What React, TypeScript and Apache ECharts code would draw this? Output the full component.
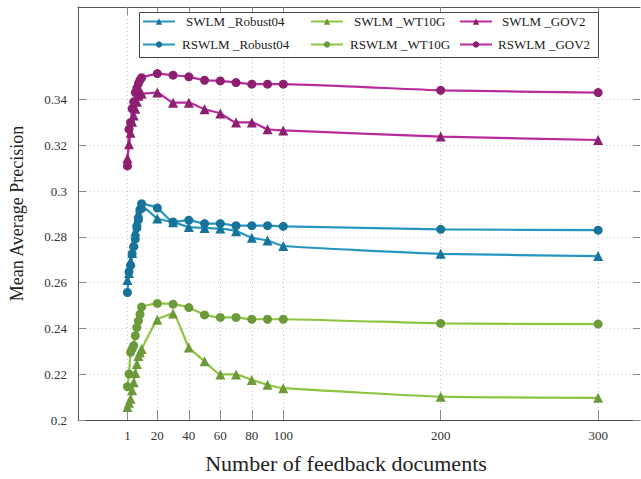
import React, { useEffect, useRef } from "react";
import * as echarts from "echarts";

const xValues = [1, 2, 3, 4, 5, 6, 7, 8, 9, 10, 20, 30, 40, 50, 60, 70, 80, 90, 100, 200, 300];
const xTicks = [1, 20, 40, 60, 80, 100, 200, 300];
const yTicks = [0.2, 0.22, 0.24, 0.26, 0.28, 0.3, 0.32, 0.34];

const swlmRobust04 = [0.2612, 0.2642, 0.2695, 0.273, 0.2775, 0.2825, 0.2868, 0.2904, 0.2929, 0.2935, 0.288, 0.2864, 0.2843, 0.2839, 0.2836, 0.2825, 0.2796, 0.2784, 0.276, 0.2726, 0.2716];
const rswlmRobust04 = [0.2557, 0.2648, 0.2675, 0.2726, 0.2757, 0.2791, 0.2839, 0.2875, 0.2919, 0.2945, 0.2926, 0.2865, 0.2873, 0.2858, 0.2858, 0.2849, 0.2849, 0.2849, 0.2846, 0.2833, 0.2829];
const swlmWT10G = [0.2057, 0.2075, 0.2093, 0.213, 0.2165, 0.2205, 0.2245, 0.228, 0.2296, 0.231, 0.2438, 0.2465, 0.2317, 0.2257, 0.2199, 0.2199, 0.2175, 0.2154, 0.2139, 0.2102, 0.2097];
const rswlmWT10G = [0.2146, 0.2201, 0.2296, 0.231, 0.2325, 0.2368, 0.2404, 0.2433, 0.2462, 0.2494, 0.2509, 0.2506, 0.2491, 0.2459, 0.2448, 0.2448, 0.244, 0.244, 0.244, 0.2422, 0.2419];
const swlmGOV2 = [0.3143, 0.3204, 0.3255, 0.3303, 0.333, 0.336, 0.339, 0.3416, 0.3426, 0.3426, 0.343, 0.3386, 0.3386, 0.3357, 0.3339, 0.33, 0.33, 0.327, 0.3265, 0.3238, 0.3223];
const rswlmGOV2 = [0.311, 0.327, 0.33, 0.336, 0.339, 0.343, 0.345, 0.347, 0.3485, 0.3495, 0.3513, 0.3506, 0.3499, 0.3484, 0.3481, 0.3474, 0.3467, 0.3467, 0.3467, 0.344, 0.343];

const FONT = "Liberation Serif";

const seriesDefs = [
  { name: "SWLM _Robust04", data: swlmRobust04, symbol: "triangle", line: "#2596c0", mark: "#17739a" },
  { name: "RSWLM _Robust04", data: rswlmRobust04, symbol: "circle", line: "#2596c0", mark: "#17739a" },
  { name: "SWLM _WT10G", data: swlmWT10G, symbol: "triangle", line: "#8dc540", mark: "#6b9a3a" },
  { name: "RSWLM _WT10G", data: rswlmWT10G, symbol: "circle", line: "#8dc540", mark: "#6b9a3a" },
  { name: "SWLM _GOV2", data: swlmGOV2, symbol: "triangle", line: "#b82a9c", mark: "#8c1f70" },
  { name: "RSWLM _GOV2", data: rswlmGOV2, symbol: "circle", line: "#b82a9c", mark: "#8c1f70" },
];

const legendPos = [
  { left: 142, top: 15, pad: 6 },
  { left: 142, top: 38, pad: 2 },
  { left: 310, top: 15, pad: 6 },
  { left: 310, top: 38, pad: 2 },
  { left: 459, top: 15, pad: 5 },
  { left: 459, top: 38, pad: 1 },
];

export default function App() {
  const ref = useRef<HTMLDivElement>(null);
  useEffect(() => {
    if (!ref.current) return;
    const chart = echarts.init(ref.current, undefined, { renderer: "svg" });
    const gridLine = { show: true, lineStyle: { color: "#c8c8c8", type: [1, 3], width: 1 } };
    const option: any = {
      animation: false,
      backgroundColor: "#ffffff",
      textStyle: { fontFamily: FONT },
      grid: { left: 78, top: 7, right: 1, bottom: 56, containLabel: false },
      legend: seriesDefs.map((s, i) => ({
        data: [s.name],
        left: legendPos[i].left,
        top: legendPos[i].top,
        padding: 0,
        itemWidth: 32,
        itemHeight: 8,
        selectedMode: false,
        textStyle: { fontFamily: FONT, fontSize: 13, color: "#222", padding: [0, 0, 0, legendPos[i].pad] },
        z: 5,
      })),
      graphic: [
        {
          type: "rect",
          z: 3,
          shape: { x: 139.5, y: 12.5, width: 459, height: 45 },
          style: { fill: "#ffffff", stroke: "#444", lineWidth: 1 },
        },
      ],
      xAxis: [
        {
          type: "value",
          min: -30.4,
          max: 326.6,
          name: "Number of feedback documents",
          nameLocation: "middle",
          nameGap: 32,
          nameTextStyle: { fontFamily: FONT, fontSize: 22, color: "#222", padding: [0, 26, 0, 0] },
          axisLine: { show: true, onZero: false, lineStyle: { color: "#444", width: 1 } },
          axisTick: { show: true, inside: true, length: 10, customValues: xTicks, lineStyle: { color: "#888" } },
          axisLabel: { customValues: xTicks, fontFamily: FONT, fontSize: 13, color: "#333", margin: 9 },
          splitLine: gridLine,
        },
        {
          type: "value",
          position: "top",
          min: -30.4,
          max: 326.6,
          axisLine: { show: true, onZero: false, lineStyle: { color: "#555", width: 1 } },
          axisTick: { show: true, inside: true, length: 8, customValues: xTicks, lineStyle: { color: "#888" } },
          axisLabel: { show: false },
          splitLine: { show: false },
        },
      ],
      yAxis: [
        {
          type: "value",
          min: 0.2,
          max: 0.3804,
          name: "Mean Average Precision",
          nameLocation: "middle",
          nameGap: 52,
          nameTextStyle: { fontFamily: FONT, fontSize: 18, color: "#222" },
          axisLine: { show: true, onZero: false, lineStyle: { color: "#555", width: 1 } },
          axisTick: { show: true, inside: true, length: 8, customValues: yTicks, lineStyle: { color: "#888" } },
          axisLabel: { customValues: yTicks, fontFamily: FONT, fontSize: 13, color: "#333", margin: 11 },
          splitLine: gridLine,
        },
        {
          type: "value",
          position: "right",
          min: 0.2,
          max: 0.3804,
          axisLine: { show: false, onZero: false },
          axisTick: { show: true, inside: true, length: 7, customValues: yTicks, lineStyle: { color: "#888" } },
          axisLabel: { show: false },
          splitLine: { show: false },
        },
      ],
      series: seriesDefs.map((s) => ({
        name: s.name,
        type: "line",
        xAxisIndex: 0,
        yAxisIndex: 0,
        data: xValues.map((x, i) => [x, s.data[i]]),
        symbol: s.symbol,
        symbolSize: s.symbol === "circle" ? 9 : 10,
        smooth: 0.15,
        lineStyle: { color: s.line, width: 2.2 },
        itemStyle: { color: s.mark },
        z: 2,
      })),
    };
    chart.setOption(option);
    return () => chart.dispose();
  }, []);
  return (
    <div
      ref={ref}
      style={{ position: "absolute", left: 0, top: 0, width: 641, height: 479 }}
    />
  );
}
